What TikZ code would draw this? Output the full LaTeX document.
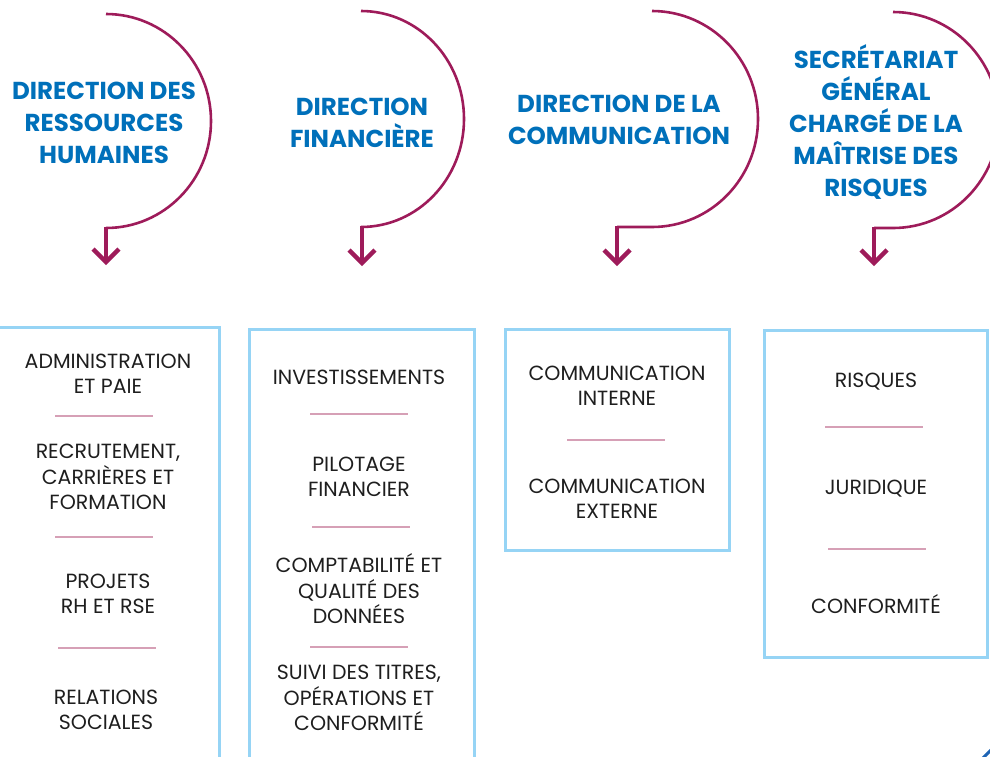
\documentclass[tikz,border=0pt]{standalone}
\usepackage{fontspec}
\setmainfont{Poppins}
\definecolor{plum}{RGB}{158,27,90}
\definecolor{headblue}{RGB}{0,112,186}
\definecolor{boxblue}{RGB}{150,212,245}
\definecolor{seppink}{RGB}{214,160,182}
\definecolor{txt}{RGB}{30,30,30}
\definecolor{cornerblue}{RGB}{30,100,180}
\tikzset{
  head/.style={text=headblue, font=\fontsize{24.5}{31.8}\selectfont\bfseries, align=center, inner sep=0pt, anchor=center},
  item/.style={text=txt, font=\fontsize{20.5}{25.5}\selectfont, align=center, inner sep=0pt, anchor=center},
  orgbox/.style={draw=boxblue, line width=3pt},
  sepline/.style={draw=seppink, line width=1.3pt},
  swirl/.style={draw=plum, line width=2.6pt},
  shaft/.style={draw=plum, line width=4pt},
  chevron/.style={draw=plum, line width=4.5pt, miter limit=10},
}
\begin{document}
\begin{tikzpicture}[x=1pt,y=1pt]
\useasboundingbox (0,0) rectangle (990,-756);

% boxes
\draw[orgbox] (-5,-327) rectangle (219,-775);
\draw[orgbox] (249,-329) rectangle (474,-775);
\draw[orgbox] (505,-329) rectangle (729,-550);
\draw[orgbox] (764,-330) rectangle (987,-657);

% corner fragment
\draw[cornerblue, line width=3pt] (983,-758) -- (992,-749);

% swirls with arrows
\coordinate (t1) at (106,-14);  \coordinate (e1) at (106,-228); \coordinate (a1) at (106,-228); \coordinate (p1) at (106,-262);
\coordinate (t2) at (361,-11);  \coordinate (e2) at (361,-227); \coordinate (a2) at (362,-227); \coordinate (p2) at (362,-263);
\coordinate (t3) at (652,-11);  \coordinate (e3) at (652,-227); \coordinate (a3) at (617,-227); \coordinate (p3) at (617,-263);
\coordinate (t4) at (893,-12);  \coordinate (e4) at (893,-228); \coordinate (a4) at (874,-228); \coordinate (p4) at (874,-263);

\draw[swirl] (t1) arc[start angle=90, end angle=-90, x radius=105, y radius=107] -- (a1);
\draw[swirl] (t2) arc[start angle=90, end angle=-90, x radius=103, y radius=108] -- (a2);
\draw[swirl] (t3) arc[start angle=90, end angle=-90, x radius=106, y radius=108] -- (a3);
\draw[swirl] (t4) arc[start angle=90, end angle=-90, x radius=106, y radius=108] -- (a4);

\foreach \i in {1,2,3,4}{
  \draw[shaft] ([yshift=1.3pt]a\i) -- ([yshift=3pt]p\i);
  \draw[chevron] ([xshift=-13pt,yshift=13pt]p\i) -- (p\i) -- ([xshift=13pt,yshift=13pt]p\i);
}

% headings
\node[head] (h1) at (104,-123) {DIRECTION DES\\RESSOURCES\\HUMAINES};
\node[head] (h2) at (362,-123) {DIRECTION\\FINANCIÈRE};
\node[head] (h3) at (619,-120) {DIRECTION DE LA\\COMMUNICATION};
\node[head] (h4) at (876,-122) {SECRÉTARIAT\\GÉNÉRAL\\CHARGÉ DE LA\\MAÎTRISE DES\\RISQUES};

% box 1
\node[item] (i11) at (108,-374) {ADMINISTRATION\\ET PAIE};
\draw[sepline] (55,-416) -- (153,-416);
\node[item] (i12) at (108,-477) {RECRUTEMENT,\\CARRIÈRES ET\\FORMATION};
\draw[sepline] (55,-537) -- (153,-537);
\node[item] (i13) at (108,-594) {PROJETS\\RH ET RSE};
\draw[sepline] (58,-648) -- (156,-648);
\node[item] (i14) at (106,-710) {RELATIONS\\SOCIALES};

% box 2
\node[item] (i21) at (359,-377) {INVESTISSEMENTS};
\draw[sepline] (310,-414) -- (408,-414);
\node[item] (i22) at (359,-477) {PILOTAGE\\FINANCIER};
\draw[sepline] (312,-527) -- (410,-527);
\node[item] (i23) at (359,-589) {COMPTABILITÉ ET\\QUALITÉ DES\\DONNÉES};
\draw[sepline] (310,-647) -- (408,-647);
\node[item] (i24) at (359,-698) {SUIVI DES TITRES,\\OPÉRATIONS ET\\CONFORMITÉ};

% box 3
\node[item] (i31) at (617,-386) {COMMUNICATION\\INTERNE};
\draw[sepline] (567,-440) -- (665,-440);
\node[item] (i32) at (617,-499) {COMMUNICATION\\EXTERNE};

% box 4
\node[item] (i41) at (876,-382) {RISQUES};
\draw[sepline] (825,-427) -- (923,-427);
\node[item] (i42) at (876,-489) {JURIDIQUE};
\draw[sepline] (828,-549) -- (926,-549);
\node[item] (i43) at (876,-604) {CONFORMITÉ};
\end{tikzpicture}
\end{document}
